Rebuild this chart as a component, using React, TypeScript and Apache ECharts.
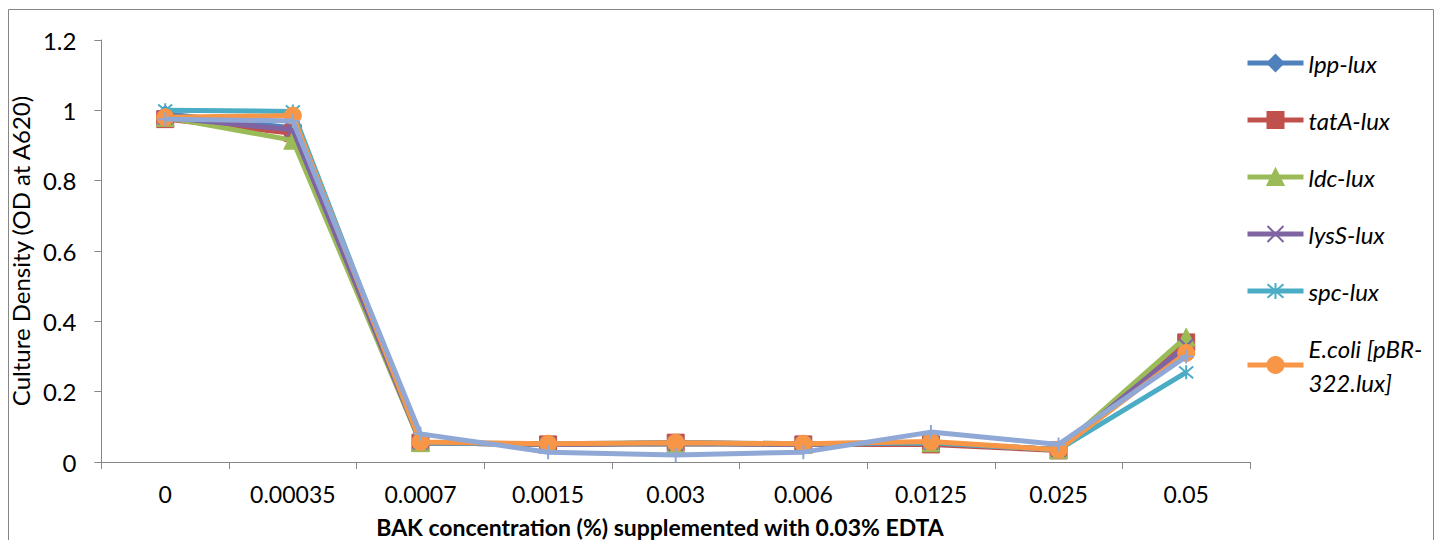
import React, { useEffect, useRef } from "react";
import * as echarts from "echarts";

const categories = ["0", "0.00035", "0.0007", "0.0015", "0.003", "0.006", "0.0125", "0.025", "0.05"];
const seriesNames = ["lpp-lux", "tatA-lux", "ldc-lux", "lysS-lux", "spc-lux", "E.coli [pBR-322.lux]", "series7"];
const lpp = [0.99, 0.95, 0.055, 0.05, 0.055, 0.05, 0.055, 0.035, 0.32];
const tatA = [0.975, 0.935, 0.055, 0.05, 0.055, 0.05, 0.05, 0.033, 0.34];
const ldc = [0.98, 0.915, 0.055, 0.05, 0.052, 0.05, 0.055, 0.035, 0.355];
const lysS = [0.98, 0.945, 0.055, 0.05, 0.052, 0.05, 0.055, 0.035, 0.33];
const spc = [1.0, 0.997, 0.055, 0.052, 0.055, 0.052, 0.055, 0.035, 0.255];
const ecoli = [0.98, 0.985, 0.057, 0.052, 0.055, 0.052, 0.058, 0.035, 0.31];
const series7 = [0.975, 0.97, 0.08, 0.028, 0.02, 0.028, 0.085, 0.05, 0.3];
const yTicks = { min: 0, max: 1.2, interval: 0.2 };

const colors = ["#4F81BD", "#C0504D", "#9BBB59", "#8064A2", "#4BACC6", "#F79646", "#8FA8D6"];
const symbols = [
  "diamond",
  "rect",
  "triangle",
  "path://M0,0 L10,10 M10,0 L0,10",
  "path://M0,0 L10,10 M10,0 L0,10 M5,-1 L5,11",
  "circle",
  "path://M5,0 L5,10 M0,5 L10,5",
];
const lineMarker = [false, false, false, true, true, false, true];

export default function App() {
  const ref = useRef<HTMLDivElement>(null);
  useEffect(() => {
    document.body.style.margin = "0";
    if (!ref.current) return;
    const chart = echarts.init(ref.current, null, { renderer: "svg" });
    const font = "Lato, 'Open Sans', sans-serif";
    const datasets = [lpp, tatA, ldc, lysS, spc, ecoli, series7];
    chart.setOption({
      animation: false,
      textStyle: { fontFamily: font },
      grid: { left: 97, top: 40, right: 195, bottom: 78, containLabel: false },
      legend: {
        data: seriesNames.slice(0, 6),
        orient: "vertical",
        left: 1245,
        top: 46,
        padding: 0,
        itemWidth: 56,
        itemHeight: 20,
        itemGap: 23,
        lineStyle: { width: 5 },
        formatter: (n: string) => (n === "E.coli [pBR-322.lux]" ? "E.coli [pBR-\n322.lux]" : n),
        textStyle: { fontStyle: "italic", fontSize: 24, color: "#000", fontFamily: font, lineHeight: 34 },
      },
      xAxis: {
        type: "category",
        data: categories,
        boundaryGap: true,
        axisLine: { lineStyle: { color: "#868686", width: 1 } },
        axisTick: { show: true, length: 7, lineStyle: { color: "#868686" } },
        axisLabel: { color: "#000", fontSize: 23, margin: 20, fontFamily: font },
        splitLine: { show: false },
      },
      yAxis: {
        type: "value",
        min: yTicks.min,
        max: yTicks.max,
        interval: yTicks.interval,
        name: "Culture Density (OD at A620)",
        nameLocation: "middle",
        nameGap: 53,
        nameTextStyle: { fontSize: 24, color: "#000", fontFamily: font },
        axisLine: { show: true, lineStyle: { color: "#868686", width: 1 } },
        axisTick: { show: true, length: 7, lineStyle: { color: "#868686" } },
        axisLabel: { color: "#000", fontSize: 24, margin: 25, fontFamily: font },
        splitLine: { show: false },
      },
      graphic: [
        {
          type: "rect",
          shape: { x: 8.5, y: 9.5, width: 1425, height: 560 },
          style: { fill: "none", stroke: "#868686", lineWidth: 1 },
          silent: true,
        },
        {
          type: "text",
          x: 660,
          y: 527,
          style: {
            text: "BAK concentration (%) supplemented with 0.03% EDTA",
            fontSize: 23,
            fontWeight: "bold",
            fill: "#000",
            fontFamily: font,
            align: "center",
            verticalAlign: "middle",
          },
        },
      ],
      series: datasets.map((d, i) => ({
        name: seriesNames[i],
        type: "line",
        data: d,
        symbol: symbols[i],
        symbolSize: lineMarker[i] ? 14 : i === 2 ? 18 : 17,
        showAllSymbol: true,
        lineStyle: { color: colors[i], width: 5 },
        itemStyle: lineMarker[i]
          ? { color: colors[i], borderColor: colors[i], borderWidth: 2 }
          : { color: colors[i], borderColor: colors[i], borderWidth: 1 },
        z: 2 + i,
      })),
    });
    return () => chart.dispose();
  }, []);
  return <div ref={ref} style={{ width: 1445, height: 540 }} />;
}
